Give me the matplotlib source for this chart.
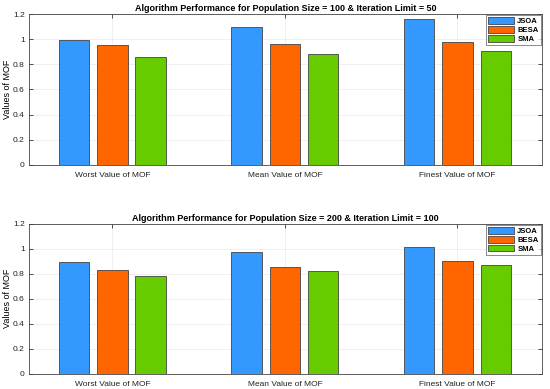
import matplotlib
matplotlib.use("Agg")
import matplotlib.pyplot as plt
import numpy as np

plt.rcParams['font.family'] = ['Liberation Sans', 'DejaVu Sans']

categories = ["Worst Value of MOF", "Mean Value of MOF", "Finest Value of MOF"]
algorithms = ["JSOA", "BESA", "SMA"]
top_values = {
    "JSOA": [0.99, 1.095, 1.16],
    "BESA": [0.955, 0.964, 0.978],
    "SMA": [0.86, 0.885, 0.904],
}
bottom_values = {
    "JSOA": [0.892, 0.969, 1.012],
    "BESA": [0.826, 0.857, 0.903],
    "SMA": [0.783, 0.823, 0.871],
}
titles = ["Algorithm Performance for Population Size = 100 & Iteration Limit = 50",
          "Algorithm Performance for Population Size = 200 & Iteration Limit = 100"]
yticks = [0, 0.2, 0.4, 0.6, 0.8, 1, 1.2]
ytick_labels = ["0", "0.2", "0.4", "0.6", "0.8", "1", "1.2"]

colors = ["#3399ff", "#ff6600", "#66cc00"]

fig = plt.figure(figsize=(5.5, 3.89), dpi=100)
positions = [[0.0527, 0.576, 0.9328, 0.388], [0.0527, 0.0386, 0.9328, 0.3868]]
x = np.arange(1, len(categories) + 1)
offsets = [-0.222, 0, 0.222]
width = 0.176

for pos, data, title in zip(positions, [top_values, bottom_values], titles):
    ax = fig.add_axes(pos)
    for i, alg in enumerate(algorithms):
        ax.bar(x + offsets[i], data[alg], width=width, color=colors[i],
               edgecolor="#444444", linewidth=0.6, label=alg, zorder=3)
    ax.set_xlim(0.517, 3.49)
    ax.set_ylim(0, 1.2)
    ax.set_xticks(x)
    ax.set_xticklabels(categories, fontsize=6)
    ax.set_yticks(yticks)
    ax.set_yticklabels(ytick_labels, fontsize=6)
    ax.set_ylabel("Values of MOF", fontsize=6.5, labelpad=1)
    ax.set_title(title, fontsize=6.5, fontweight="bold", pad=2)
    ax.tick_params(axis="both", direction="in", length=3, width=0.6, color="#333333",
                   top=True, right=True, labelcolor="#222222")
    ax.tick_params(axis="x", pad=5)
    ax.tick_params(axis="y", pad=3)
    ax.grid(True, color="#ececec", linewidth=0.6, zorder=0)
    for s in ax.spines.values():
        s.set_color("#444444")
        s.set_linewidth(0.6)
    leg = ax.legend(loc="upper right", fontsize=5.5, frameon=True, fancybox=False,
                    edgecolor="#555555", borderpad=0.3, handlelength=3.4,
                    handleheight=1.0, handletextpad=0.4, labelspacing=0.1,
                    borderaxespad=0.15)
    leg.get_frame().set_linewidth(0.6)
    for t in leg.get_texts():
        t.set_fontweight("bold")

fig.savefig("out.png", dpi=100)
